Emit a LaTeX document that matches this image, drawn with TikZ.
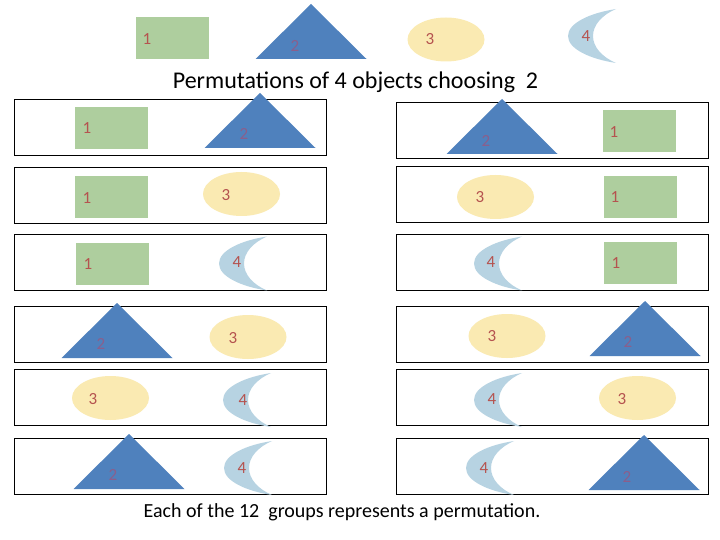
\documentclass[tikz,border=0pt]{standalone}
\usepackage{fontspec}
\setmainfont{Carlito}
\usetikzlibrary{positioning, shapes.geometric}
\definecolor{ink}{HTML}{000000}
\definecolor{rectfill}{HTML}{AECE9E}
\definecolor{trifill}{HTML}{4F81BD}
\definecolor{ovalfill}{HTML}{FAEAB2}
\definecolor{moonfill}{HTML}{B7D3E2}
\definecolor{numred}{HTML}{B5534F}
\definecolor{numdim}{HTML}{8A5F8C}
\tikzset{
  rowbox/.style={draw=ink, line width=0.9pt, fill=white, inner sep=0pt, minimum width=312pt, minimum height=56pt},
  rectobj/.style={fill=rectfill, inner sep=0pt, minimum width=73pt, minimum height=42pt},
  ovalobj/.style={ellipse, fill=ovalfill, inner sep=0pt, minimum width=77pt, minimum height=44pt},
  numlabel/.style={text=numred, font=\fontsize{17}{19}\selectfont, inner sep=0pt},
  numdimlabel/.style={text=numdim, font=\fontsize{17}{19}\selectfont, inner sep=0pt},
  caption/.style={text=ink, inner sep=0pt},
  triobj/.pic={\fill[trifill] (0,0) -- (55.5,55) -- (-55.5,55) -- cycle;},
  moonobj/.pic={\fill[moonfill] (0,-27) .. controls (-26,-23) and (-48,-13) .. (-48,0)
    .. controls (-48,13) and (-26,23) .. (0,27)
    .. controls (-14,21) and (-23,11) .. (-23,0)
    .. controls (-23,-11) and (-14,-21) .. (0,-27) -- cycle;}
}
\begin{document}
\begin{tikzpicture}[x=1pt, y=-1pt]
  \useasboundingbox (0,0) rectangle (720,540);

  % Row frames
  \foreach \n/\x/\y in {a/170/127, b/170/195.5, c/170/262, d/170/334, e/170/397, f/170/466.5,
                        g/552/130.5, h/552/194, i/552/262, j/552/334, k/552/397, l/552/466.5} {
    \node[rowbox] (frame\n) at (\x,\y) {};
  }

  % Rectangles (object 1)
  \foreach \n/\x/\y/\lx/\ly in {t/172/38.5/147/39, a/111/128.5/87/128, b/111/197.5/87/198, c/112.5/264/88/264,
                                g/639.5/131.5/614/132, h/640/197.5/615/197, i/640.5/263/616/263} {
    \node[rectobj] (rect\n) at (\x,\y) {};
    \node[numlabel] (numone\n) at (\lx,\ly) {1};
  }

  % Triangles (object 2)
  \foreach \n/\x/\y/\lx/\ly in {t/311/4/295/46, a/260/93/244/134, g/502/99/486/141, d/117/303/101/344,
                                f/129/434/113/475, j/645/301/628/342, l/644/435/627/477} {
    \pic at (\x,\y) {triobj};
    \node[numdimlabel] (numtwo\n) at (\lx,\ly) {2};
  }

  % Ovals (object 3)
  \foreach \n/\x/\y/\lx/\ly in {t/446/39.5/430/39, b/241.5/194/226/195, h/495.5/197/480/197, d/248/337/233/338,
                                j/507/336/492/336, e/110.5/398/93/399, k/637.5/398/622/399} {
    \node[ovalobj] (oval\n) at (\x,\y) {};
    \node[numlabel] (numthree\n) at (\lx,\ly) {3};
  }

  % Moons (object 4)
  \foreach \n/\x/\y/\lx/\ly in {t/616/36/586/36, c/267/263.5/237/262, i/522/263.5/491/262, e/271/400/243/400,
                                k/522/400/492/399, f/272/468/242/468, l/514/468/484/468} {
    \pic at (\x,\y) {moonobj};
    \node[numlabel] (numfour\n) at (\lx,\ly) {4};
  }

  % Captions
  \node[caption, font=\fontsize{24}{27}\selectfont] (title) at (355.5,82) {Permutations of 4 objects choosing~~2};
  \node[caption, font=\fontsize{20}{23}\selectfont] (note) at (342,512) {Each of the 12~~groups represents a permutation.};
\end{tikzpicture}
\end{document}
